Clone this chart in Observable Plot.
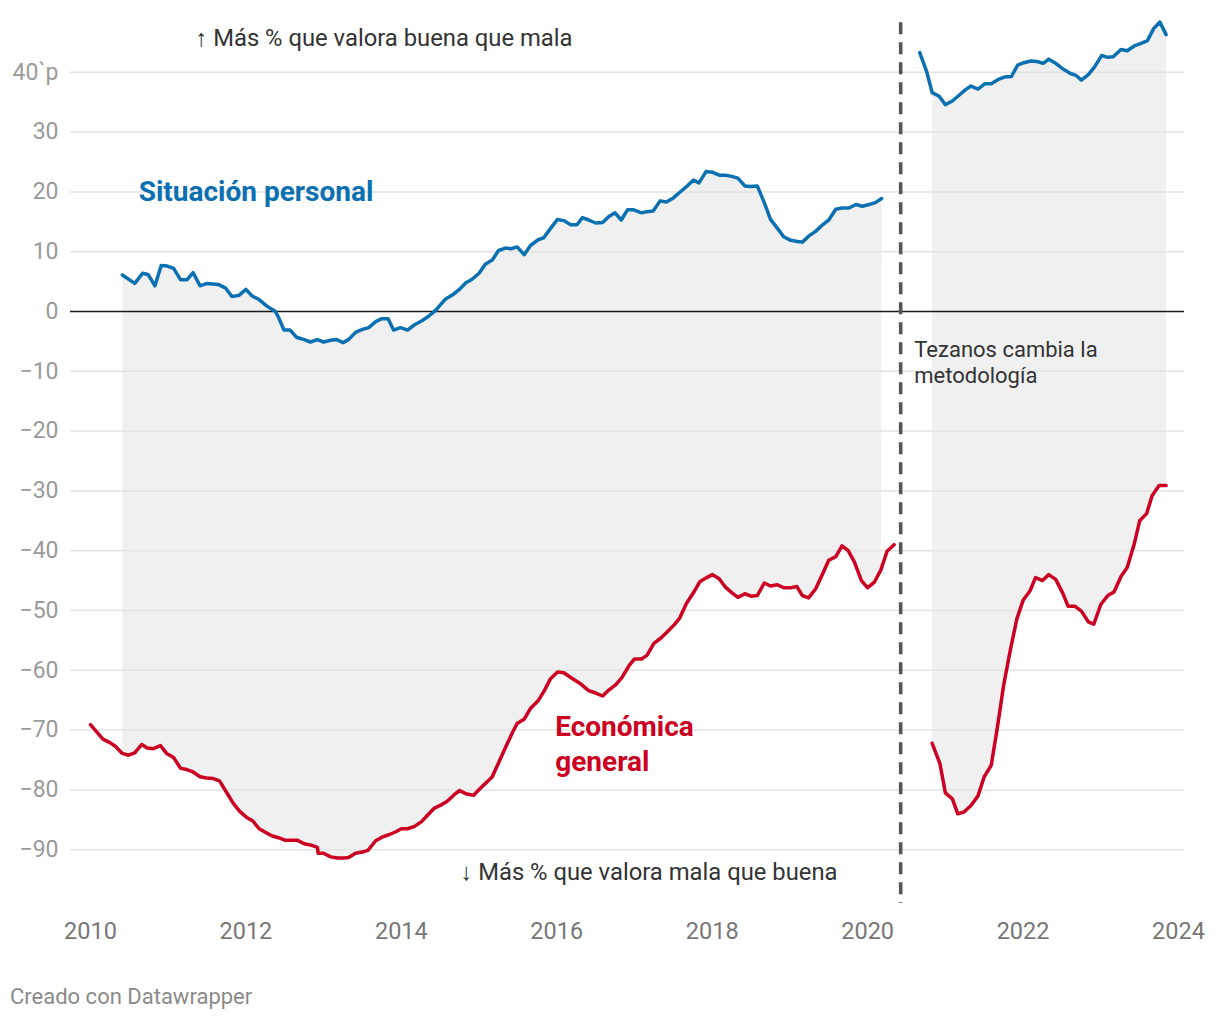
<!DOCTYPE html>
<html>
<head>
<meta charset="utf-8">
<script src="https://cdn.jsdelivr.net/npm/d3@7"></script>
<script src="https://cdn.jsdelivr.net/npm/@observablehq/plot@0.6"></script>
<style>
  html, body { margin: 0; padding: 0; background: #fff; }
  body { width: 1220px; font-family: Roboto, sans-serif; }
  #caption { font-size: 22px; color: #8a8a8a; padding-left: 10px; margin-top: 34px; line-height: 26px; }
</style>
</head>
<body>
<div id="chart"></div>
<div id="caption">Creado con Datawrapper</div>
<script>
// ---- Situación personal (antes del cambio de metodología)
const blueYears1 = [2010.41,2010.57,2010.67,2010.74,2010.83,2010.91,2010.99,2011.07,2011.16,2011.24,2011.32,2011.41,2011.50,2011.65,2011.74,2011.82,2011.91,2012.00,2012.08,2012.17,2012.27,2012.38,2012.42,2012.49,2012.57,2012.65,2012.75,2012.83,2012.92,2013.00,2013.09,2013.17,2013.25,2013.32,2013.41,2013.50,2013.58,2013.67,2013.75,2013.83,2013.90,2013.99,2014.08,2014.16,2014.27,2014.35,2014.44,2014.57,2014.66,2014.74,2014.83,2014.91,2015.00,2015.08,2015.17,2015.25,2015.34,2015.41,2015.49,2015.58,2015.66,2015.76,2015.83,2015.92,2016.01,2016.09,2016.18,2016.26,2016.33,2016.41,2016.50,2016.59,2016.67,2016.75,2016.83,2016.91,2016.99,2017.09,2017.16,2017.24,2017.33,2017.41,2017.50,2017.58,2017.67,2017.76,2017.83,2017.92,2018.00,2018.09,2018.17,2018.25,2018.33,2018.42,2018.49,2018.58,2018.67,2018.75,2018.84,2018.92,2019.01,2019.10,2019.16,2019.24,2019.33,2019.42,2019.50,2019.59,2019.67,2019.76,2019.85,2019.93,2020.02,2020.10,2020.18];
const blueValues1 = [6.1,4.7,6.4,6.2,4.3,7.7,7.6,7.2,5.3,5.3,6.5,4.3,4.7,4.5,3.9,2.5,2.7,3.7,2.6,2.0,0.9,0.0,-1.0,-3.1,-3.1,-4.3,-4.7,-5.1,-4.7,-5.1,-4.8,-4.7,-5.2,-4.7,-3.5,-3.0,-2.7,-1.7,-1.2,-1.2,-3.1,-2.7,-3.1,-2.3,-1.5,-0.8,0.2,2.1,2.8,3.6,4.8,5.4,6.4,7.9,8.6,10.2,10.6,10.5,10.8,9.5,11.0,12.0,12.3,13.9,15.4,15.2,14.5,14.5,15.7,15.3,14.8,14.9,15.9,16.5,15.3,17.0,17.0,16.5,16.7,16.8,18.5,18.3,19.0,19.9,20.9,22.0,21.5,23.4,23.3,22.8,22.8,22.6,22.3,21.0,20.9,21.0,18.2,15.4,13.9,12.5,11.9,11.7,11.6,12.6,13.4,14.5,15.3,17.1,17.3,17.3,17.9,17.6,17.9,18.2,18.9];

// ---- Situación personal (después del cambio)
const blueYears2 = [2020.67,2020.76,2020.83,2020.92,2021.00,2021.09,2021.18,2021.26,2021.33,2021.42,2021.51,2021.59,2021.68,2021.76,2021.85,2021.93,2022.01,2022.10,2022.18,2022.26,2022.33,2022.42,2022.52,2022.61,2022.68,2022.75,2022.84,2022.92,2023.01,2023.09,2023.16,2023.26,2023.34,2023.43,2023.51,2023.60,2023.68,2023.76,2023.84];
const blueValues2 = [43.3,40.1,36.6,36.0,34.6,35.2,36.2,37.1,37.7,37.2,38.1,38.1,38.8,39.2,39.3,41.2,41.6,41.9,41.8,41.5,42.2,41.5,40.5,39.8,39.5,38.7,39.6,40.9,42.8,42.5,42.6,43.8,43.6,44.4,44.8,45.3,47.3,48.4,46.3];

// ---- Económica general (antes del cambio)
const redYears1 = [2010.00,2010.08,2010.16,2010.25,2010.32,2010.41,2010.49,2010.57,2010.66,2010.73,2010.81,2010.90,2010.98,2011.07,2011.16,2011.24,2011.32,2011.41,2011.49,2011.58,2011.66,2011.75,2011.84,2011.92,2012.01,2012.09,2012.17,2012.25,2012.34,2012.42,2012.50,2012.58,2012.66,2012.75,2012.83,2012.92,2012.93,2013.00,2013.09,2013.18,2013.26,2013.32,2013.41,2013.50,2013.57,2013.67,2013.75,2013.84,2013.93,2014.00,2014.08,2014.17,2014.26,2014.34,2014.42,2014.50,2014.59,2014.68,2014.75,2014.84,2014.93,2015.01,2015.10,2015.17,2015.25,2015.34,2015.43,2015.49,2015.58,2015.66,2015.76,2015.84,2015.92,2016.01,2016.09,2016.18,2016.31,2016.41,2016.50,2016.59,2016.67,2016.76,2016.84,2016.93,2017.00,2017.09,2017.16,2017.25,2017.34,2017.42,2017.51,2017.58,2017.67,2017.76,2017.84,2017.93,2018.00,2018.09,2018.17,2018.25,2018.33,2018.42,2018.50,2018.58,2018.67,2018.75,2018.84,2018.92,2019.01,2019.09,2019.16,2019.24,2019.33,2019.42,2019.50,2019.59,2019.67,2019.75,2019.83,2019.92,2020.00,2020.09,2020.17,2020.25,2020.34];
const redValues1 = [-69.1,-70.3,-71.5,-72.1,-72.7,-73.9,-74.2,-73.8,-72.4,-73.0,-73.1,-72.6,-73.9,-74.6,-76.4,-76.6,-77.0,-77.8,-78.0,-78.1,-78.5,-80.4,-82.3,-83.6,-84.6,-85.2,-86.5,-87.1,-87.7,-88.0,-88.4,-88.4,-88.4,-89.0,-89.2,-89.6,-90.6,-90.6,-91.2,-91.4,-91.4,-91.3,-90.6,-90.4,-90.1,-88.5,-87.9,-87.5,-87.0,-86.5,-86.5,-86.1,-85.3,-84.2,-83.1,-82.6,-81.9,-80.8,-80.1,-80.7,-80.9,-79.8,-78.7,-77.8,-75.5,-72.9,-70.4,-68.9,-68.2,-66.4,-65.1,-63.4,-61.4,-60.3,-60.4,-61.2,-62.3,-63.4,-63.8,-64.3,-63.3,-62.4,-61.2,-59.2,-58.1,-58.1,-57.5,-55.5,-54.6,-53.6,-52.4,-51.3,-48.8,-47.0,-45.2,-44.5,-44.0,-44.7,-46.1,-47.0,-47.8,-47.2,-47.6,-47.5,-45.4,-45.9,-45.7,-46.2,-46.2,-46.0,-47.5,-47.9,-46.4,-43.9,-41.6,-41.0,-39.2,-40.0,-41.9,-45.0,-46.2,-45.2,-43.2,-40.1,-39.0];

// ---- Económica general (después del cambio)
const redYears2 = [2020.83,2020.93,2021.00,2021.09,2021.16,2021.24,2021.33,2021.42,2021.50,2021.59,2021.67,2021.75,2021.83,2021.92,2022.00,2022.09,2022.16,2022.25,2022.33,2022.42,2022.51,2022.58,2022.67,2022.75,2022.84,2022.91,2023.00,2023.09,2023.17,2023.26,2023.34,2023.43,2023.50,2023.59,2023.66,2023.75,2023.84];
const redValues2 = [-72.2,-75.6,-80.5,-81.5,-84.0,-83.7,-82.6,-81.0,-77.8,-75.9,-69.5,-62.5,-57.0,-51.4,-48.3,-46.7,-44.5,-45.0,-44.0,-44.8,-47.1,-49.3,-49.3,-50.1,-51.9,-52.3,-49.0,-47.5,-46.9,-44.3,-42.8,-38.9,-35.0,-33.8,-30.8,-29.1,-29.1];

// ---- Ejes
const yTicks = [40,30,20,10,0,-10,-20,-30,-40,-50,-60,-70,-80,-90];
const yTickLabels = ["40`p","30","20","10","0","−10","−20","−30","−40","−50","−60","−70","−80","−90"];
const xTicks = [2010,2012,2014,2016,2018,2020,2022,2024];
const xTickLabels = ["2010","2012","2014","2016","2018","2020","2022","2024"];
const methodologyChange = 2020.425;

// ---- Construcción de tablas
const toRows = (xs, vs, seg) => xs.map((x, i) => ({x, y: vs[i], seg}));
const blue1 = toRows(blueYears1, blueValues1, "b1");
const blue2 = toRows(blueYears2, blueValues2, "b2");
const red1 = toRows(redYears1, redValues1, "r1");
const red2 = toRows(redYears2, redValues2, "r2");

function band(blue, red, seg) {
  const lo = Math.max(blue[0].x, red[0].x);
  const hi = Math.min(blue[blue.length - 1].x, red[red.length - 1].x) + 0.015;
  const top = blue.filter(d => d.x >= lo - 1e-9 && d.x <= hi);
  const bottom = red.filter(d => d.x >= lo - 1e-9 && d.x <= hi).reverse();
  return top.concat(bottom).map(d => ({x: d.x, y: d.y, seg}));
}
const bands = band(blue1, red1, "s1").concat(band(blue2, red2, "s2"));

const BLUE = "#0b70b2";
const RED = "#cc0022";

const chart = Plot.plot({
  width: 1220,
  height: 950,
  marginLeft: 70,
  marginRight: 36,
  marginTop: 12,
  marginBottom: 41,
  x: {domain: [2009.743, 2024.077], label: null},
  y: {domain: [-100, 50], label: null},
  style: {fontFamily: "Roboto, sans-serif", background: "#fff", overflow: "visible"},
  marks: [
    Plot.line(bands, {x: "x", y: "y", z: "seg", fill: "#f0f0f0", stroke: "none"}),
    Plot.ruleY(yTicks.filter(d => d !== 0), {stroke: "#e3e3e3", strokeWidth: 1.5}),
    Plot.ruleY([0], {stroke: "#1a1a1a", strokeWidth: 1.7}),
    Plot.ruleX([methodologyChange], {y1: 48.3, y2: -99, stroke: "#555", strokeWidth: 3.6, strokeDasharray: "12,8"}),
    Plot.line(blue1, {x: "x", y: "y", stroke: BLUE, strokeWidth: 3.5}),
    Plot.line(blue2, {x: "x", y: "y", stroke: BLUE, strokeWidth: 3.5}),
    Plot.line(red1, {x: "x", y: "y", stroke: RED, strokeWidth: 3.5}),
    Plot.line(red2, {x: "x", y: "y", stroke: RED, strokeWidth: 3.5}),
    Plot.text(["↑ Más % que valora buena que mala"], {x: 2011.35, y: 45.6, text: d => d, textAnchor: "start", fontSize: 23.8, fill: "#333"}),
    Plot.text(["↓ Más % que valora mala que buena"], {x: 2014.76, y: -93.8, text: d => d, textAnchor: "start", fontSize: 23.8, fill: "#333"}),
    Plot.text(["Situación personal"], {x: 2010.62, y: 19.9, text: d => d, textAnchor: "start", fontSize: 28, fontWeight: "bold", fill: BLUE}),
    Plot.text(["Económica\ngeneral"], {x: 2015.98, y: -72.05, text: d => d, textAnchor: "start", fontSize: 28, fontWeight: "bold", fill: RED, lineHeight: 1.24}),
    Plot.text(["Tezanos cambia la\nmetodología"], {x: 2020.60, y: -8.4, text: d => d, textAnchor: "start", fontSize: 22, fill: "#333", lineHeight: 1.18}),
    Plot.axisY(yTicks, {tickSize: 0, tickPadding: 12, tickFormat: d => yTickLabels[yTicks.indexOf(d)], fontSize: 23, fill: "#9a9a9a", label: null}),
    Plot.axisX(xTicks, {tickSize: 0, tickPadding: 13, tickFormat: d => xTickLabels[xTicks.indexOf(d)], fontSize: 23.5, fill: "#777", label: null})
  ]
});
document.getElementById("chart").appendChild(chart);
</script>
</body>
</html>
